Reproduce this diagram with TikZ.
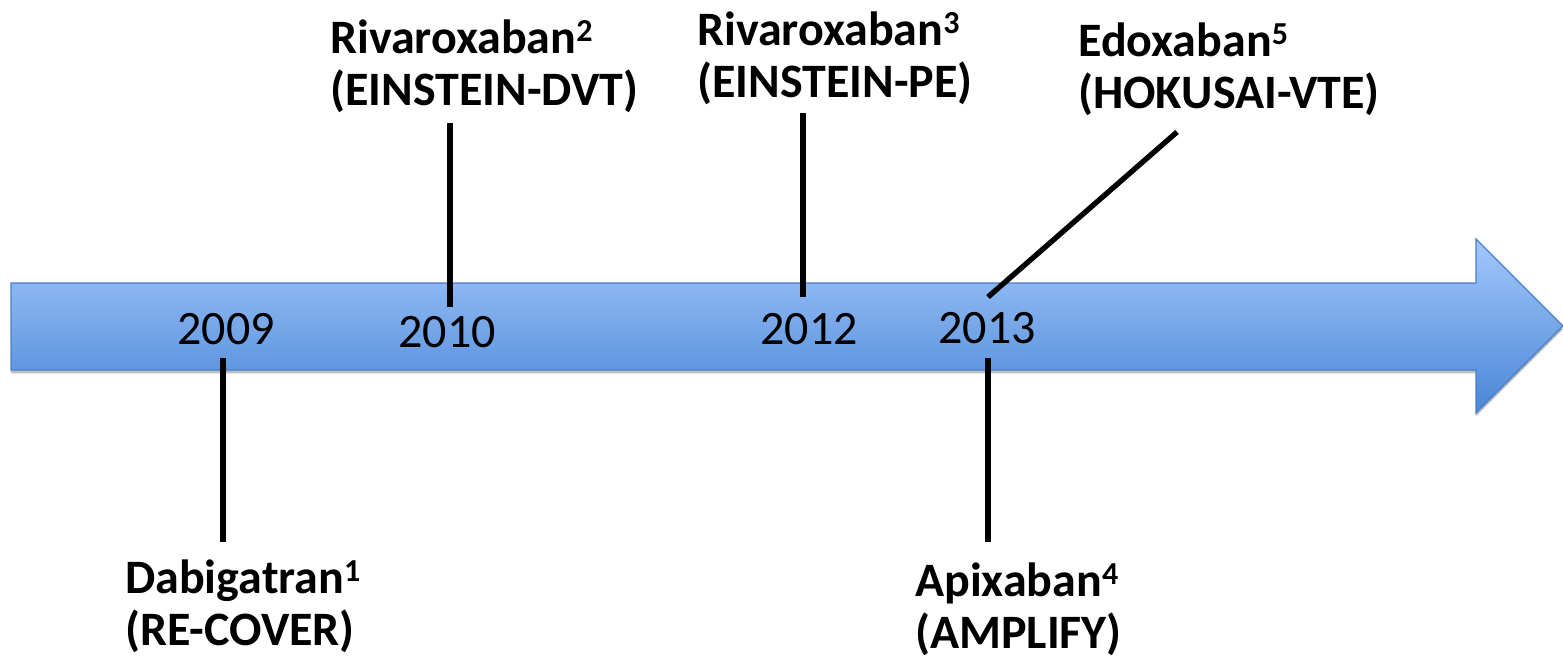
\documentclass[tikz,border=0pt]{standalone}
\usepackage{fontspec}
\setmainfont{Carlito}
\usetikzlibrary{shadows}
\definecolor{arrowtop}{HTML}{A3C8FC}
\definecolor{arrowbot}{HTML}{4A86D6}
\definecolor{arrowedge}{HTML}{4A7EC4}
\newcommand{\supnum}[1]{\raisebox{0.25em}{\fontsize{24}{24}\selectfont #1}}
\begin{document}
\begin{tikzpicture}[x=0.75pt,y=-0.75pt,
  year/.style={font=\fontsize{36}{36}\selectfont, inner sep=0pt, anchor=base},
  lbl/.style={font=\fontsize{36}{39}\selectfont\bfseries, inner sep=0pt, anchor=base west, align=left},
  tick/.style={line width=4pt, black},
  arrowbody/.style={draw=arrowedge, line width=1pt, top color=arrowtop, bottom color=arrowbot,
    drop shadow={shadow xshift=0pt, shadow yshift=-2.5pt, opacity=0.25, fill=black}}]
\useasboundingbox (0,0) rectangle (1563,661);
% timeline arrow
\path[arrowbody] (11,283) -- (1476,283) -- (1476,239) -- (1563,326) -- (1476,413) -- (1476,370) -- (11,370) -- cycle;
% years
\node[year] (y2009) at (226,344) {2009};
\node[year] (y2010) at (447,347) {2010};
\node[year] (y2012) at (809,344) {2012};
\node[year] (y2013) at (987,343) {2013};
% labels (anchor = baseline of the second line)
\node[lbl] (dabi) at (125,645) {Dabigatran\supnum{1}\\(RE-COVER)};
\node[lbl] (riva2) at (330,105) {Rivaroxaban\supnum{2}\\(EINSTEIN-DVT)};
\node[lbl] (riva3) at (697,97) {Rivaroxaban\supnum{3}\\(EINSTEIN-PE)};
\node[lbl] (apix) at (915,648) {Apixaban\supnum{4}\\(AMPLIFY)};
\node[lbl] (edox) at (1078,108) {Edoxaban\supnum{5}\\(HOKUSAI-VTE)};
% tick end points
\coordinate (t2009a) at (223,358);
\coordinate (t2009b) at (223,542);
\coordinate (t2010a) at (450,307);
\coordinate (t2010b) at (450,123);
\coordinate (t2012a) at (803,297);
\coordinate (t2012b) at (803,113);
\coordinate (t2013a) at (988,297);
\coordinate (t2013b) at (1177,132);
\coordinate (t2013c) at (988,358);
\coordinate (t2013d) at (988,542);
\draw[tick] (t2009a) -- (t2009b);
\draw[tick] (t2010a) -- (t2010b);
\draw[tick] (t2012a) -- (t2012b);
\draw[tick] (t2013a) -- (t2013b);
\draw[tick] (t2013c) -- (t2013d);
\end{tikzpicture}
\end{document}
